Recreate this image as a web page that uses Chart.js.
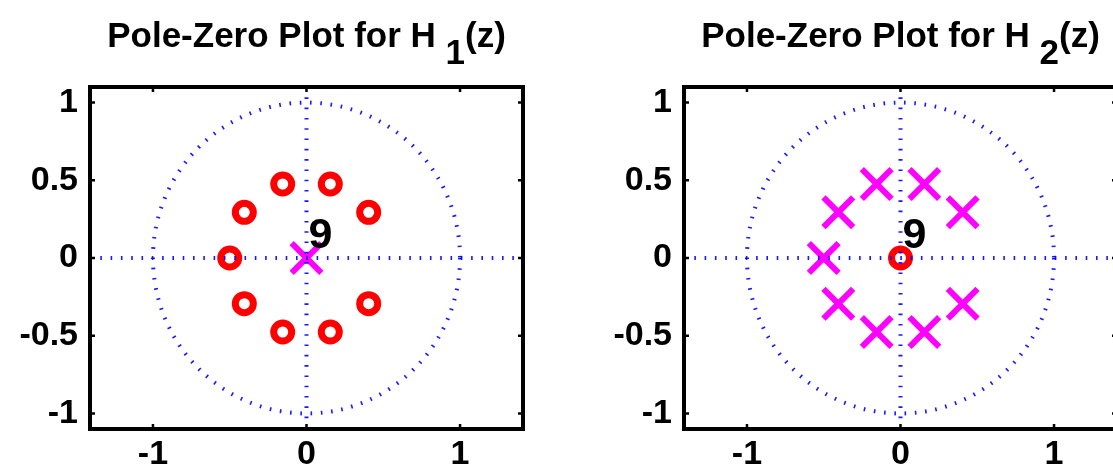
<!DOCTYPE html>
<html>
<head>
<meta charset="utf-8">
<script src="https://cdn.jsdelivr.net/npm/chart.js@4"></script>
<style>
html, body { margin: 0; padding: 0; background: #fff; overflow: hidden; }
#wrap { position: relative; width: 1113px; height: 471px; overflow: hidden; }
.pane { position: absolute; top: 0; height: 471px; }
#p1 { left: 0; width: 556px; }
#p2 { left: 556px; width: 600px; }
</style>
</head>
<body>
<div id="wrap">
  <div class="pane" id="p1"><canvas id="h1" width="556" height="471"></canvas></div>
  <div class="pane" id="p2"><canvas id="h2" width="600" height="471"></canvas></div>
</div>
<script>
// ring of 9 roots, radius 0.5
const ringRe = [0.405, 0.155, -0.155, -0.405, -0.5, -0.405, -0.155, 0.155, 0.405]
const ringIm = [0.294, 0.476, 0.476, 0.294, 0, -0.294, -0.476, -0.476, -0.294]
// 9-fold root at the origin
const originRe = [0]
const originIm = [0]
const multiplicity = '9'

const xTicks = [-1, 0, 1]
const yTicks = [-1, -0.5, 0, 0.5, 1]
const xRange = [-1.41, 1.41]
const yRange = [-1.1, 1.1]

const tickFont = { family: 'Liberation Sans', weight: 'bold', size: 34 }

function pts(re, im) {
    return re.map((v, i) => ({ x: v, y: im[i] }))
}

// unit circle, axes, box, inside ticks, multiplicity label and title
const pzPlugin = {
    id: 'pz',
    afterDatasetsDraw(chart) {
        const { ctx, chartArea: a, scales: { x, y } } = chart
        const x0 = x.getPixelForValue(0)
        const y0 = y.getPixelForValue(0)
        const rx = x.getPixelForValue(1) - x0
        const ry = y0 - y.getPixelForValue(1)
        ctx.save()
        ctx.strokeStyle = 'rgba(0,0,255,0.9)'
        ctx.lineWidth = 4
        ctx.setLineDash([1.6, 8.7])
        ctx.beginPath()
        ctx.ellipse(x0, y0, rx, ry, 0, 0, Math.PI * 2)
        ctx.stroke()
        ctx.beginPath()
        ctx.moveTo(a.left, y0)
        ctx.lineTo(a.right, y0)
        ctx.stroke()
        ctx.beginPath()
        ctx.moveTo(x0, a.top)
        ctx.lineTo(x0, a.bottom)
        ctx.stroke()
        ctx.setLineDash([])

        // multiplicity of the origin root
        ctx.fillStyle = '#000'
        ctx.font = 'bold 43px "Liberation Sans"'
        ctx.textAlign = 'left'
        ctx.textBaseline = 'alphabetic'
        ctx.fillText(multiplicity, x.getPixelForValue(originRe[0]) + 2, y.getPixelForValue(originIm[0]) - 10)
        ctx.restore()
    },
    afterDraw(chart) {
        const { ctx, chartArea: a, scales: { x, y } } = chart
        ctx.save()
        ctx.strokeStyle = '#000'
        ctx.lineWidth = 2.5
        ctx.beginPath()
        xTicks.forEach(v => {
            const px = x.getPixelForValue(v)
            ctx.moveTo(px, a.top); ctx.lineTo(px, a.top + 5)
            ctx.moveTo(px, a.bottom); ctx.lineTo(px, a.bottom - 5)
        })
        yTicks.forEach(v => {
            const py = y.getPixelForValue(v)
            ctx.moveTo(a.left, py); ctx.lineTo(a.left + 5, py)
            ctx.moveTo(a.right, py); ctx.lineTo(a.right - 5, py)
        })
        ctx.stroke()
        ctx.lineWidth = 4
        ctx.strokeRect(a.left, a.top, a.right - a.left, a.bottom - a.top)

        // title with subscript
        const sub = chart.options.plugins.pz.sub
        ctx.font = 'bold 35px "Liberation Sans"'
        ctx.fillStyle = '#000'
        ctx.textBaseline = 'alphabetic'
        ctx.textAlign = 'left'
        const main = 'Pole-Zero Plot for H '
        const tail = '(z)'
        const w1 = ctx.measureText(main).width
        const w2 = ctx.measureText(sub).width
        const w3 = ctx.measureText(tail).width
        let tx = (a.left + a.right) / 2 - (w1 + w2 + w3) / 2
        ctx.fillText(main, tx, 47)
        ctx.fillText(sub, tx + w1, 64)
        ctx.fillText(tail, tx + w1 + w2, 47)
        ctx.restore()
    }
}

function makePlot(id, sub, zeros, poles, axisWidth, padRight) {
    return new Chart(document.getElementById(id), {
        type: 'scatter',
        data: {
            datasets: [
                {
                    label: 'Zeros',
                    data: zeros,
                    pointStyle: 'circle',
                    pointRadius: 9,
                    pointBorderWidth: 7,
                    pointBorderColor: '#ff0000',
                    pointBackgroundColor: 'rgba(0,0,0,0)',
                },
                {
                    label: 'Poles',
                    data: poles,
                    pointStyle: 'crossRot',
                    pointRadius: 21,
                    pointBorderWidth: 6,
                    pointBorderColor: '#ff00ff',
                    pointBackgroundColor: '#ff00ff',
                },
            ],
        },
        options: {
            responsive: false,
            animation: false,
            events: [],
            layout: { padding: { top: 87, right: padRight, left: 0, bottom: 0 } },
            plugins: {
                legend: { display: false },
                tooltip: { enabled: false },
                pz: { sub },
            },
            scales: {
                x: {
                    type: 'linear',
                    min: xRange[0],
                    max: xRange[1],
                    afterFit: s => { s.height = 42 },
                    afterBuildTicks: s => { s.ticks = xTicks.map(v => ({ value: v })) },
                    grid: { display: false, drawTicks: false },
                    border: { display: false },
                    ticks: { padding: 5, color: '#000', font: tickFont, maxRotation: 0, callback: v => String(v) },
                },
                y: {
                    type: 'linear',
                    min: yRange[0],
                    max: yRange[1],
                    afterFit: s => { s.width = axisWidth },
                    afterBuildTicks: s => { s.ticks = yTicks.map(v => ({ value: v })) },
                    grid: { display: false, drawTicks: false },
                    border: { display: false },
                    ticks: { padding: 12, color: '#000', font: tickFont, callback: v => String(v) },
                },
            },
        },
        plugins: [pzPlugin],
    })
}

const h1 = makePlot('h1', '1', pts(ringRe, ringIm), pts(originRe, originIm), 90, 33)
const h2 = makePlot('h2', '2', pts(originRe, originIm), pts(ringRe, ringIm), 128, 39)
</script>
</body>
</html>
